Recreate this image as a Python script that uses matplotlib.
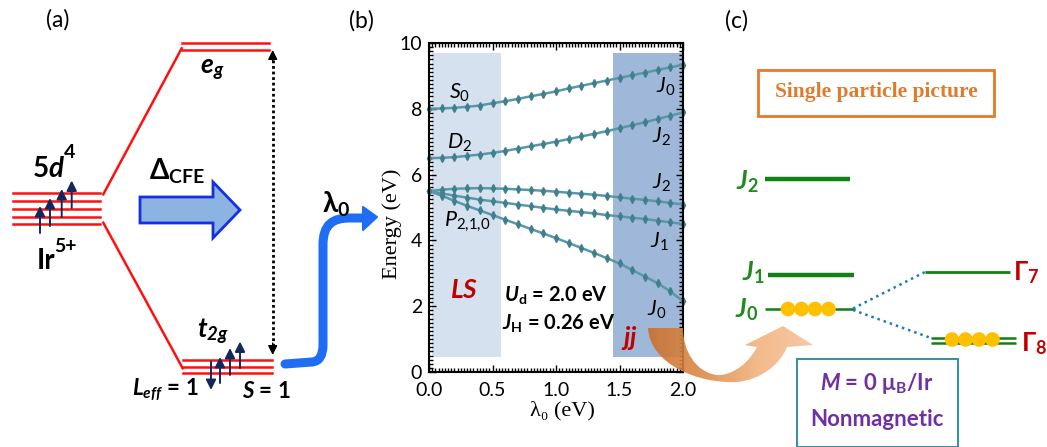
import matplotlib
matplotlib.use("Agg")
import matplotlib.pyplot as plt
import numpy as np
from matplotlib.patches import Polygon, Rectangle, PathPatch, Circle
from matplotlib.path import Path
from matplotlib.colors import LinearSegmentedColormap
from matplotlib.ticker import MultipleLocator

plt.rcParams["font.family"] = ["Lato", "DejaVu Sans"]
plt.rcParams["mathtext.fontset"] = "custom"
plt.rcParams["mathtext.rm"] = "Lato"
plt.rcParams["mathtext.it"] = "Lato:italic"
plt.rcParams["mathtext.bf"] = "Lato:bold"
plt.rcParams["mathtext.bfit"] = "Lato:bold:italic"
plt.rcParams["mathtext.fallback"] = "stixsans"

W, H = 1047, 447
SERIF = ["Liberation Serif", "DejaVu Serif"]

# ---- panel (b) data: multiplet energies vs lambda_0 ----
lam = [0.0, 0.1, 0.2, 0.3, 0.4, 0.5, 0.6, 0.7, 0.8, 0.9, 1.0,
       1.1, 1.2, 1.3, 1.4, 1.5, 1.6, 1.7, 1.8, 1.9, 2.0]
e_s0 = [8.00, 8.01, 8.03, 8.06, 8.10, 8.17, 8.23, 8.30, 8.38, 8.45, 8.53,
        8.62, 8.70, 8.78, 8.86, 8.94, 9.02, 9.10, 9.18, 9.26, 9.34]
e_d2 = [6.50, 6.51, 6.53, 6.57, 6.61, 6.66, 6.72, 6.79, 6.86, 6.93, 7.00,
        7.08, 7.16, 7.24, 7.32, 7.41, 7.50, 7.59, 7.69, 7.79, 7.89]
e_p2 = [5.50, 5.54, 5.57, 5.58, 5.59, 5.58, 5.57, 5.55, 5.53, 5.51, 5.48,
        5.45, 5.42, 5.39, 5.35, 5.31, 5.27, 5.23, 5.19, 5.14, 5.09]
e_p1 = [5.50, 5.43, 5.36, 5.30, 5.24, 5.19, 5.14, 5.09, 5.04, 4.99, 4.94,
        4.90, 4.86, 4.82, 4.77, 4.73, 4.69, 4.65, 4.60, 4.55, 4.50]
e_p0 = [5.50, 5.36, 5.20, 5.05, 4.91, 4.77, 4.63, 4.49, 4.35, 4.21, 4.07,
        3.92, 3.77, 3.62, 3.46, 3.30, 3.10, 2.90, 2.70, 2.45, 2.15]
curves = [e_s0, e_d2, e_p2, e_p1, e_p0]

ls_labels = [r"$S_0$", r"$D_2$", r"$P_{2{,}1{,}0}$"]
ls_label_pos = [(0.24, 8.47), (0.24, 6.95), (0.30, 4.57)]
jj_labels = [r"$J_0$", r"$J_2$", r"$J_2$", r"$J_1$", r"$J_0$"]
jj_label_pos = [(1.86, 8.67), (1.83, 7.15), (1.83, 5.75), (1.81, 3.96), (1.79, 1.88)]

xticks = [0.0, 0.5, 1.0, 1.5, 2.0]
yticks = [0, 2, 4, 6, 8, 10]

fig = plt.figure(figsize=(W / 100, H / 100), dpi=100)

# ---------------- panel (b) ----------------
ax = fig.add_axes([429 / W, 1 - 372 / H, (683 - 429) / W, (372 - 43) / H])
ax.set_zorder(2)
ax.add_patch(Rectangle((0.02, 0.45), 0.55, 9.25, color="#d5e1ee", zorder=0, lw=0))
ax.add_patch(Rectangle((1.45, 0.45), 0.55, 9.25, color="#9fb8d9", zorder=0, lw=0))
for e in curves:
    ax.plot(lam, e, color="#5a97a8", lw=1.8, marker="d", ms=4.2,
            mfc="#407f8c", mec="#407f8c", zorder=2, clip_on=False)
ax.set_xlim(0, 2)
ax.set_ylim(0, 10)
ax.set_xticks(xticks)
ax.set_xticklabels([f"{t:.1f}" for t in xticks])
ax.set_yticks(yticks)
ax.xaxis.set_minor_locator(MultipleLocator(0.025))
ax.yaxis.set_minor_locator(MultipleLocator(0.125))
ax.tick_params(which="both", direction="in", top=True, right=True, labelsize=14, width=1)
ax.tick_params(which="major", length=5)
ax.tick_params(axis="x", which="major", pad=7)
ax.tick_params(axis="y", which="major", pad=5)
ax.tick_params(which="minor", length=3)
for sp in ax.spines.values():
    sp.set_linewidth(1.5)
for t, (x, y) in zip(ls_labels, ls_label_pos):
    ax.text(x, y, t, fontsize=15.5, ha="center", va="center", zorder=3)
for t, (x, y) in zip(jj_labels, jj_label_pos):
    ax.text(x, y, t, fontsize=15.5, ha="center", va="center", zorder=3)
ax.text(0.28, 2.49, r"$\mathbfit{LS}$", color="#c00000", fontsize=19, ha="center", va="center")
ax.text(1.58, 1.02, r"$\mathbfit{jj}$", color="#c00000", fontsize=19, ha="center", va="center")
ax.text(1.0, 2.34, r"$\mathbfit{U}_\mathbf{d}$ = 2.0 eV", fontsize=14.5, fontweight="bold",
        ha="center", va="center")
ax.text(1.02, 1.48, r"$\mathbfit{J}_\mathbf{H}$ = 0.26 eV", fontsize=14.5, fontweight="bold",
        ha="center", va="center")

# ---------------- overlay in pixel coordinates ----------------
ov = fig.add_axes([0, 0, 1, 1])
ov.set_zorder(5)
ov.patch.set_alpha(0)
ov.set_xlim(0, W)
ov.set_ylim(H, 0)
ov.axis("off")

ov.text(392, 224, "Energy (eV)", family=SERIF, fontsize=16, rotation=90, ha="center", va="center")
ov.text(562, 411, "λ₀ (eV)", family=SERIF, fontsize=16, ha="center", va="center")

red = "#ff1010"
navy = "#14275a"

ov.text(58, 20, "(a)", fontsize=16.5, ha="center", va="center")
ov.text(361, 21, "(b)", fontsize=16.5, ha="center", va="center")
ov.text(736, 21, "(c)", fontsize=16.5, ha="center", va="center")

# 5d levels
for y in [193.3, 201, 209, 216.5, 224]:
    ov.plot([13, 100], [y, y], color=red, lw=1.8)
for x, y0, y1 in [(40, 233, 206), (50, 226, 198), (61.7, 217, 189), (71.7, 208, 180.5)]:
    ov.annotate("", xy=(x, y1), xytext=(x, y0),
                arrowprops=dict(arrowstyle="-|>", color=navy, lw=1.4, mutation_scale=15,
                                shrinkA=0, shrinkB=0))
ov.text(48, 169, r"$\mathbf{5}\mathbfit{d}$", fontsize=20, ha="center", va="center")
ov.text(70, 153, "4", fontsize=14, fontweight="bold", ha="center", va="center")
ov.text(46, 261, "Ir", fontsize=20, fontweight="bold", ha="center", va="center")
ov.text(65.5, 247, "5+", fontsize=14, fontweight="bold", ha="center", va="center")

# splitting lines
ov.plot([103.3, 181.7], [194.3, 48.3], color=red, lw=1.8)
ov.plot([103.3, 182.7], [222.7, 368.3], color=red, lw=1.8)
for y in [43.3, 50]:
    ov.plot([181.7, 269.3], [y, y], color=red, lw=1.8)
for y in [360, 366.7, 373.3]:
    ov.plot([183.3, 271.7], [y, y], color=red, lw=1.8)
ov.text(212, 70, r"$\mathbfit{e}_\mathbfit{g}$", fontsize=19, ha="center", va="center")
ov.text(213, 332, r"$\mathbfit{t}_\mathbfit{2g}$", fontsize=19, ha="center", va="center")

ov.annotate("", xy=(211, 390), xytext=(211, 361.5),
            arrowprops=dict(arrowstyle="-|>", color=navy, lw=1.4, mutation_scale=15,
                            shrinkA=0, shrinkB=0))
for x, y0, y1 in [(220, 383, 357), (230, 375, 348), (240, 368, 341.5)]:
    ov.annotate("", xy=(x, y1), xytext=(x, y0),
                arrowprops=dict(arrowstyle="-|>", color=navy, lw=1.4, mutation_scale=15,
                                shrinkA=0, shrinkB=0))
ov.text(165, 390, r"$\mathbfit{L}_\mathbfit{eff}$ = 1", fontsize=16, fontweight="bold",
        ha="center", va="center")
ov.text(266, 391, r"$\mathbfit{S}$ = 1", fontsize=16, fontweight="bold", ha="center", va="center")

# dotted double arrow
ov.plot([272.7, 272.7], [60, 345], color="black", lw=2, ls=(0, (1, 1)))
for tip, base in [((272.7, 50), (272.7, 62)), ((272.7, 355), (272.7, 343))]:
    ov.annotate("", xy=tip, xytext=base,
                arrowprops=dict(arrowstyle="-|>", color="black", lw=1, mutation_scale=14,
                                shrinkA=0, shrinkB=0))

# Delta_CFE block arrow
ov.add_patch(Polygon([(140, 197), (213, 197), (213, 182), (240, 210), (213, 238),
                      (213, 223), (140, 223)], closed=True, fc="#8db3e2", ec="#1530e0", lw=2))
ov.text(177, 171, r"$\mathbf{\Delta}_\mathbf{CFE}$", fontsize=20, ha="center", va="center")

# lambda_0 curved arrow
lam_path = Path([(285, 364), (312, 362), (323, 361), (323, 345), (323, 245),
                 (323, 224), (333, 218), (350, 218), (366, 218)],
                [Path.MOVETO, Path.LINETO, Path.CURVE3, Path.CURVE3, Path.LINETO,
                 Path.CURVE4, Path.CURVE4, Path.CURVE4, Path.LINETO])
ov.add_patch(PathPatch(lam_path, fc="none", ec="#1f6cf5", lw=6.5, capstyle="round",
                       joinstyle="round"))
ov.add_patch(Polygon([(363, 207), (377, 217), (363, 230)], closed=True, fc="#1f6cf5",
                     ec="#1f6cf5", lw=1.5, joinstyle="round"))
ov.text(336, 204, r"$\mathbf{\lambda}_\mathbf{0}$", fontsize=20, ha="center", va="center")

# orange curved arrow (gradient fill)
orange_path = Path([(648, 328), (650, 365), (700, 384), (737, 382),
                    (760, 380), (780, 365), (787, 347),
                    (813, 345), (783, 326), (745, 345), (757, 347),
                    (745, 370), (725, 376), (717, 375),
                    (695, 372), (683, 350), (683, 328), (648, 328)],
                   [Path.MOVETO, Path.CURVE4, Path.CURVE4, Path.CURVE4,
                    Path.CURVE4, Path.CURVE4, Path.CURVE4,
                    Path.LINETO, Path.LINETO, Path.LINETO, Path.LINETO,
                    Path.CURVE4, Path.CURVE4, Path.CURVE4,
                    Path.CURVE4, Path.CURVE4, Path.CURVE4, Path.CLOSEPOLY])
clip = PathPatch(orange_path, fc="none", ec="none", transform=ov.transData)
ov.add_patch(clip)
ocmap = LinearSegmentedColormap.from_list("orng", ["#c96e2a", "#dc8a48", "#f2b37f", "#f6c49a"])
grad = np.linspace(0, 1, 256).reshape(1, -1)
ov.imshow(grad, cmap=ocmap, extent=[645, 815, 385, 325], aspect="auto",
          alpha=0.9, clip_path=clip, zorder=4, interpolation="bilinear")
ov.set_xlim(0, W)
ov.set_ylim(H, 0)

# ---------------- panel (c) ----------------
green = "#1f8a1f"
gline = "#138013"
gold = "#ffc000"
ov.add_patch(Rectangle((758, 70), 236, 46, fc="white", ec="#e8792a", lw=2))
ov.text(876, 92, "Single particle picture", family=SERIF,
        fontweight="bold", color="#e07b2e", fontsize=15.5, ha="center", va="center")

ov.plot([765, 850], [179, 179], color=gline, lw=3.2, solid_capstyle="butt")
ov.plot([768, 854], [275, 275], color=gline, lw=3.2, solid_capstyle="butt")
ov.plot([765, 855], [309, 309], color=gline, lw=1.8, solid_capstyle="butt")
ov.plot([925, 1010], [271.7, 271.7], color=gline, lw=2, solid_capstyle="butt")
for y in [337.5, 342.5]:
    ov.plot([931, 1016], [y, y], color=gline, lw=1.8, solid_capstyle="butt")
for x in [788, 801.5, 815, 828.5]:
    ov.add_patch(Circle((x, 309), 7.3, fc=gold, ec="none", zorder=6))
for x in [952, 965.5, 979, 992.5]:
    ov.add_patch(Circle((x, 339.5), 7.3, fc=gold, ec="none", zorder=6))
ov.plot([853, 925], [308.5, 272], color="#1f77c8", lw=1.8, ls=(0, (1, 1.6)))
ov.plot([853, 931], [310, 338], color="#1f77c8", lw=1.8, ls=(0, (1, 1.6)))

ov.text(747, 182, r"$\mathbfit{J}_\mathbf{2}$", color=green, fontsize=18.5, ha="center", va="center")
ov.text(753, 273, r"$\mathbfit{J}_\mathbf{1}$", color=green, fontsize=18.5, ha="center", va="center")
ov.text(747, 310, r"$\mathbfit{J}_\mathbf{0}$", color=green, fontsize=18.5, ha="center", va="center")
ov.text(1026, 273, r"$\mathbf{\Gamma}_\mathbf{7}$", color="#c00000", fontsize=18.5, ha="center", va="center")
ov.text(1034, 344, r"$\mathbf{\Gamma}_\mathbf{8}$", color="#c00000", fontsize=18.5, ha="center", va="center")

ov.add_patch(Rectangle((797, 358.5), 161, 88, fc="white", ec="#3f8fa0", lw=1.5, zorder=3))
ov.text(877, 383, r"$\mathbfit{M}$ = 0 μ$_\mathbf{B}$/Ir", color="#7030a0", fontsize=16,
        fontweight="bold", ha="center", va="center", zorder=6)
ov.text(877, 420, "Nonmagnetic", color="#7030a0", fontweight="bold", fontsize=16,
        ha="center", va="center", zorder=6)

fig.savefig("out.png", dpi=100)
